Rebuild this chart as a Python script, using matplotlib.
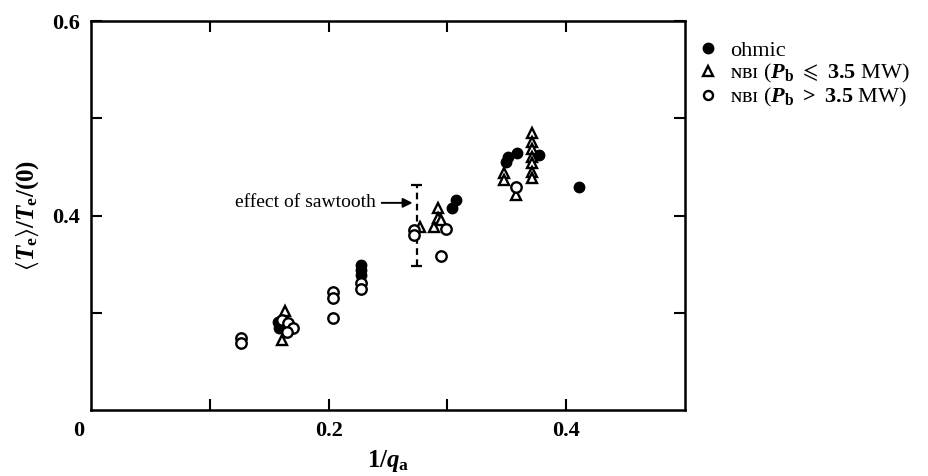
import matplotlib
matplotlib.use('Agg')
import matplotlib.pyplot as plt
from matplotlib.lines import Line2D

plt.rcParams['font.family'] = ['Liberation Serif', 'DejaVu Serif']
plt.rcParams['mathtext.fontset'] = 'custom'
plt.rcParams['mathtext.rm'] = 'Liberation Serif:bold'
plt.rcParams['mathtext.it'] = 'Liberation Serif:italic:bold'
plt.rcParams['mathtext.bf'] = 'Liberation Serif:bold'
plt.rcParams['mathtext.fallback'] = 'stix'

# ohmic discharges (filled circles)
ohmic_x = [0.157, 0.158, 0.227, 0.227, 0.227, 0.304, 0.307, 0.349, 0.351, 0.359, 0.377, 0.411]
ohmic_y = [0.290, 0.284, 0.349, 0.344, 0.339, 0.408, 0.416, 0.455, 0.460, 0.464, 0.462, 0.429]

# NBI, Pb <= 3.5 MW (open triangles)
nbi_lo_x = [0.163, 0.161, 0.277, 0.292, 0.292, 0.289, 0.295, 0.348, 0.348, 0.358,
            0.371, 0.371, 0.371, 0.371, 0.371, 0.371, 0.371]
nbi_lo_y = [0.302, 0.272, 0.388, 0.408, 0.397, 0.388, 0.395, 0.444, 0.437, 0.421,
            0.485, 0.476, 0.468, 0.460, 0.454, 0.445, 0.439]

# NBI, Pb > 3.5 MW (open circles)
nbi_hi_x = [0.126, 0.126, 0.161, 0.166, 0.170, 0.165, 0.204, 0.204, 0.204, 0.227, 0.227,
            0.272, 0.272, 0.299, 0.295, 0.358]
nbi_hi_y = [0.274, 0.269, 0.293, 0.289, 0.284, 0.280, 0.321, 0.315, 0.295, 0.331, 0.324,
            0.385, 0.380, 0.386, 0.358, 0.429]

# sawtooth range bar
saw_x = 0.274
saw_lo = 0.348
saw_hi = 0.431
saw_arrow_y = 0.413

x_ticks = [0.1, 0.2, 0.3, 0.4]
x_ticklabels = ['', '0.2', '', '0.4']
y_ticks = [0.3, 0.4, 0.5, 0.6]
y_ticklabels = ['', '0.4', '', '0.6']

fig = plt.figure(figsize=(9.29, 4.76), dpi=100)
ax = fig.add_axes([91 / 929, 66 / 476, 594 / 929, 389 / 476])

ms = 7.5
ax.plot(ohmic_x, ohmic_y, 'o', ms=ms, color='black', zorder=3)
ax.plot(nbi_lo_x, nbi_lo_y, '^', ms=ms, mfc='white', mec='black', mew=1.7, ls='none', zorder=4)
ax.plot(nbi_hi_x, nbi_hi_y, 'o', ms=ms, mfc='white', mec='black', mew=1.7, ls='none', zorder=5)

# sawtooth effect bar
ax.vlines(saw_x, saw_lo, saw_hi, colors='black', linestyles=(0, (3, 2)), lw=1.6, zorder=2)
ax.hlines([saw_lo, saw_hi], saw_x - 0.005, saw_x + 0.005, colors='black', lw=1.6, zorder=2)
ax.annotate('effect of sawtooth', xy=(saw_x - 0.001, saw_arrow_y), xytext=(0.240, saw_arrow_y),
            ha='right', va='center', fontsize=14,
            arrowprops=dict(arrowstyle='-|>', color='black', lw=1.4, mutation_scale=14))

ax.set_xlim(0, 0.5)
ax.set_ylim(0.2, 0.6)
ax.set_xticks(x_ticks)
ax.set_xticklabels(x_ticklabels, fontsize=16, fontweight='bold')
ax.set_yticks(y_ticks)
ax.set_yticklabels(y_ticklabels, fontsize=16, fontweight='bold')
ax.tick_params(direction='in', length=8, width=1.5, top=True, right=True, pad=8)
ax.annotate('0', xy=(0, 0.2), xytext=(-9, -8), textcoords='offset points',
            ha='center', va='top', fontsize=16, fontweight='bold')
for sp in ax.spines.values():
    sp.set_linewidth(1.8)

ax.set_xlabel(r'$1/q_{\rm a}$', fontsize=18, labelpad=5)
ax.set_ylabel(r'$\langle T_{\rm e}\rangle/T_{\rm e}/(0)$', fontsize=18, labelpad=8)

handles = [
    Line2D([], [], marker='o', ls='none', ms=7.5, color='black'),
    Line2D([], [], marker='^', ls='none', ms=6.5, mfc='white', mec='black', mew=1.7),
    Line2D([], [], marker='o', ls='none', ms=6.5, mfc='white', mec='black', mew=1.7),
]
labels = ['ohmic', r'ɴʙɪ ($P_{\rm b}\ \leqslant\ 3.5$ MW)', r'ɴʙɪ ($P_{\rm b}\ >\ 3.5$ MW)']
fig.legend(handles, labels, loc='upper left', bbox_to_anchor=(686 / 929, 1 - 29 / 476),
           frameon=False, fontsize=16, handlelength=1.0, handletextpad=0.5,
           labelspacing=0.05, borderpad=0)

fig.savefig('out.png', dpi=100)
